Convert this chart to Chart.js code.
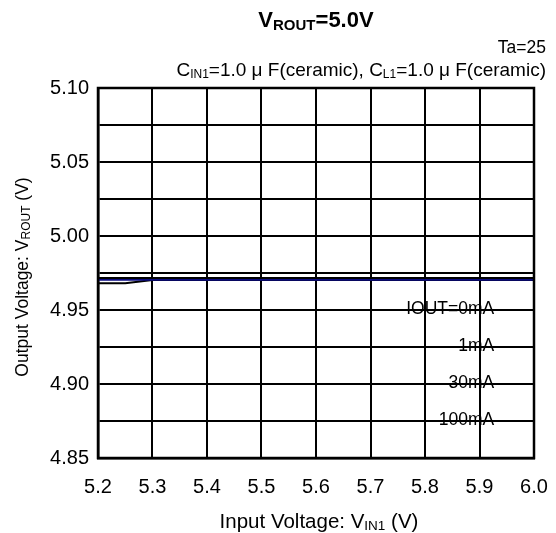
<!DOCTYPE html>
<html>
<head>
<meta charset="utf-8">
<script src="https://cdn.jsdelivr.net/npm/chart.js@4/dist/chart.umd.min.js"></script>
<style>
  body { margin: 0; background: #fff; }
  #wrap { width: 556px; height: 533px; }
</style>
</head>
<body>
<div id="wrap"><canvas id="chart" width="556" height="533"></canvas></div>
<script>
// --- Data ---
const inputVoltage = [5.2, 5.25, 5.3, 5.4, 5.5, 5.6, 5.7, 5.8, 5.9, 6.0];
const iout0mA   = [4.9717, 4.9717, 4.9717, 4.9717, 4.9717, 4.9717, 4.9717, 4.9717, 4.9717, 4.9717];
const iout1mA   = [4.9716, 4.9716, 4.9716, 4.9716, 4.9716, 4.9716, 4.9716, 4.9716, 4.9716, 4.9716];
const iout30mA  = [4.9704, 4.9704, 4.9704, 4.9704, 4.9704, 4.9704, 4.9704, 4.9704, 4.9704, 4.9704];
const iout100mA = [4.9681, 4.9681, 4.9702, 4.9702, 4.9702, 4.9702, 4.9702, 4.9702, 4.9702, 4.9702];
const legendLabels = ['IOUT=0mA', '1mA', '30mA', '100mA'];
const xTicks = [5.2, 5.3, 5.4, 5.5, 5.6, 5.7, 5.8, 5.9, 6.0];
const yTicks = [4.85, 4.875, 4.90, 4.925, 4.95, 4.975, 5.00, 5.025, 5.05, 5.075, 5.10];

const FONT = 'Arial, "Liberation Sans", sans-serif';

// draw text made of pieces (for subscripts)
function drawRich(ctx, parts, x, y, align) {
    let total = 0;
    parts.forEach(p => {
        ctx.font = `${p.bold ? 'bold ' : ''}${p.size}px ${FONT}`;
        p.w = ctx.measureText(p.t).width;
        total += p.w;
    });
    let cx = align === 'center' ? x - total / 2 : align === 'right' ? x - total : x;
    ctx.textAlign = 'left';
    ctx.textBaseline = 'alphabetic';
    parts.forEach(p => {
        ctx.font = `${p.bold ? 'bold ' : ''}${p.size}px ${FONT}`;
        ctx.fillText(p.t, cx, y + (p.dy || 0));
        cx += p.w;
    });
}

const textPlugin = {
    id: 'texts',
    afterDraw(chart) {
        const ctx = chart.ctx;
        const xs = chart.scales.x, ys = chart.scales.y;
        ctx.save();
        ctx.fillStyle = '#000';

        // title
        drawRich(ctx, [
            { t: 'V', size: 22, bold: true },
            { t: 'ROUT', size: 15, bold: true, dy: 3 },
            { t: '=5.0V', size: 22, bold: true }
        ], 316, 27, 'center');

        // conditions
        drawRich(ctx, [{ t: 'Ta=25', size: 17.5 }], 546, 53, 'right');
        drawRich(ctx, [
            { t: 'C', size: 19 }, { t: 'IN1', size: 12, dy: 2 },
            { t: '=1.0 μ F(ceramic), C', size: 19 }, { t: 'L1', size: 12, dy: 2 },
            { t: '=1.0 μ F(ceramic)', size: 19 }
        ], 546, 76, 'right');

        // x axis title
        drawRich(ctx, [
            { t: 'Input Voltage: V', size: 20.5 }, { t: 'IN1', size: 13.5, dy: 2 },
            { t: ' (V)', size: 20.5 }
        ], 319, 528, 'center');

        // y axis title (rotated)
        ctx.save();
        ctx.translate(28, 277);
        ctx.rotate(-Math.PI / 2);
        drawRich(ctx, [
            { t: 'Output Voltage: V', size: 17.5 }, { t: 'ROUT', size: 12, dy: 2 },
            { t: ' (V)', size: 17.5 }
        ], 0, 0, 'center');
        ctx.restore();

        // series labels
        ctx.font = `17.5px ${FONT}`;
        ctx.textAlign = 'right';
        ctx.textBaseline = 'middle';
        legendLabels.forEach((lab, i) => {
            ctx.fillText(lab, xs.getPixelForValue(5.927), ys.getPixelForValue(4.95 - i * 0.025) - 1);
        });
        ctx.restore();
    }
};

const series = [
    { label: legendLabels[0], data: iout0mA, color: '#000000' },
    { label: legendLabels[1], data: iout1mA, color: '#000000' },
    { label: legendLabels[2], data: iout30mA, color: '#0a0a80' },
    { label: legendLabels[3], data: iout100mA, color: '#000000' }
];

new Chart(document.getElementById('chart'), {
    type: 'line',
    data: {
        datasets: series.map(s => ({
            label: s.label,
            data: inputVoltage.map((v, i) => ({ x: v, y: s.data[i] })),
            borderColor: s.color,
            borderWidth: 2,
            pointRadius: 0,
            tension: 0,
            fill: false
        }))
    },
    options: {
        responsive: false,
        animation: false,
        devicePixelRatio: 1,
        layout: { padding: { top: 88, right: 22, left: 0, bottom: 0 } },
        plugins: { legend: { display: false }, tooltip: { enabled: false }, title: { display: false } },
        scales: {
            x: {
                type: 'linear',
                min: 5.2, max: 6.0,
                afterBuildTicks: s => { s.ticks = xTicks.map(v => ({ value: v })); },
                afterFit: s => { s.height = 75; s.paddingRight = 0; s.paddingLeft = 0; },
                grid: { color: '#000', lineWidth: 2, drawTicks: false },
                border: { color: '#000', width: 2.5 },
                ticks: {
                    color: '#000', font: { family: FONT, size: 20 }, padding: 17,
                    maxRotation: 0, autoSkip: false,
                    callback: v => v.toFixed(1)
                }
            },
            y: {
                min: 4.85, max: 5.10,
                afterBuildTicks: s => { s.ticks = yTicks.map(v => ({ value: v })); },
                afterFit: s => { s.width = 98; s.paddingTop = 0; s.paddingBottom = 0; },
                grid: { color: '#000', lineWidth: 2, drawTicks: false },
                border: { color: '#000', width: 2.5 },
                ticks: {
                    color: '#000', font: { family: FONT, size: 20 }, padding: 9,
                    autoSkip: false,
                    callback: v => (Math.round(v * 1000) % 50 === 0) ? v.toFixed(2) : ''
                }
            }
        }
    },
    plugins: [textPlugin, {
        id: 'rightTopBorder',
        afterDraw(chart) {
            const { ctx, chartArea: a } = chart;
            ctx.save();
            ctx.strokeStyle = '#000';
            ctx.lineWidth = 2.5;
            ctx.strokeRect(a.left, a.top, a.right - a.left, a.bottom - a.top);
            ctx.restore();
        }
    }]
});
</script>
</body>
</html>
